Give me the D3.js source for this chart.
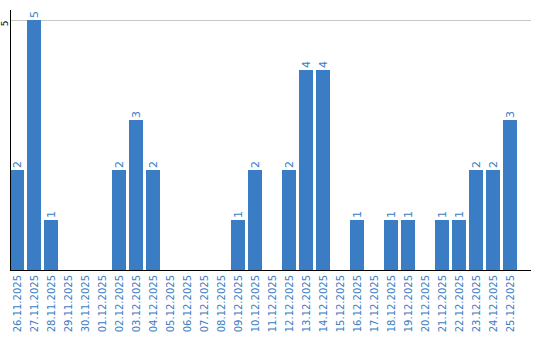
<!DOCTYPE html>
<html>
<head>
<meta charset="utf-8">
<script src="https://cdn.jsdelivr.net/npm/d3@7"></script>
<style>
  body { margin: 0; background: #fff; }
  text { font-family: "DejaVu Sans", sans-serif; }
</style>
</head>
<body>
<div id="chart"></div>
<script>
// daily counts
const dates = ["26.11.2025","27.11.2025","28.11.2025","29.11.2025","30.11.2025","01.12.2025",
  "02.12.2025","03.12.2025","04.12.2025","05.12.2025","06.12.2025","07.12.2025","08.12.2025",
  "09.12.2025","10.12.2025","11.12.2025","12.12.2025","13.12.2025","14.12.2025","15.12.2025",
  "16.12.2025","17.12.2025","18.12.2025","19.12.2025","20.12.2025","21.12.2025","22.12.2025",
  "23.12.2025","24.12.2025","25.12.2025"];
const counts = [2,5,1,0,0,0,2,3,2,0,0,0,0,1,2,0,2,4,4,0,1,0,1,1,0,1,1,2,2,3];
const yTicks = [5];

const width = 540, height = 340;
const margin = {top: 20, right: 9, bottom: 70, left: 10};
const barColor = "#3a7dc4";

const svg = d3.select("#chart").append("svg")
  .attr("width", width)
  .attr("height", height);

const x = d3.scaleBand()
  .domain(dates)
  .range([margin.left, 517])
  .paddingInner(0.176)
  .paddingOuter(0);

const y = d3.scaleLinear()
  .domain([0, 5])
  .range([height - margin.bottom, margin.top]);

// grid line at top tick
svg.append("g")
  .selectAll("line")
  .data(yTicks)
  .join("line")
  .attr("x1", margin.left)
  .attr("x2", width - margin.right)
  .attr("y1", d => y(d) + 0.5)
  .attr("y2", d => y(d) + 0.5)
  .attr("stroke", "#c8c8c8")
  .attr("stroke-width", 1);

// bars
svg.append("g")
  .selectAll("rect")
  .data(counts)
  .join("rect")
  .attr("x", (d, i) => x(dates[i]))
  .attr("y", d => y(d))
  .attr("width", x.bandwidth())
  .attr("height", d => y(0) - y(d))
  .attr("fill", barColor);

// value labels
svg.append("g")
  .selectAll("text")
  .data(counts.map((v, i) => ({v, d: dates[i]})).filter(o => o.v > 0))
  .join("text")
  .attr("transform", o => "translate(" + (x(o.d) + x.bandwidth() / 2 + 4) + "," + (y(o.v) - 2) + ") rotate(-90)")
  .attr("text-anchor", "start")
  .attr("font-size", 11)
  .attr("fill", barColor)
  .text(o => o.v);

// x axis labels
svg.append("g")
  .selectAll("text")
  .data(dates)
  .join("text")
  .attr("transform", d => "translate(" + (x(d) + x.bandwidth() / 2 + 4) + "," + (y(0) + 5) + ") rotate(-90)")
  .attr("text-anchor", "end")
  .attr("font-size", 10)
  .attr("fill", barColor)
  .text(d => d);

// y tick label
svg.append("g")
  .selectAll("text")
  .data(yTicks)
  .join("text")
  .attr("transform", d => "translate(8," + (y(d) + 3.5) + ") rotate(-90)")
  .attr("text-anchor", "middle")
  .attr("font-size", 9)
  .attr("fill", "#000")
  .text(d => d);

// axis lines
svg.append("line")
  .attr("x1", margin.left + 0.5).attr("x2", margin.left + 0.5)
  .attr("y1", 10).attr("y2", y(0))
  .attr("stroke", "#000");
svg.append("line")
  .attr("x1", margin.left).attr("x2", width - margin.right)
  .attr("y1", y(0) + 0.5).attr("y2", y(0) + 0.5)
  .attr("stroke", "#000");
</script>
</body>
</html>
